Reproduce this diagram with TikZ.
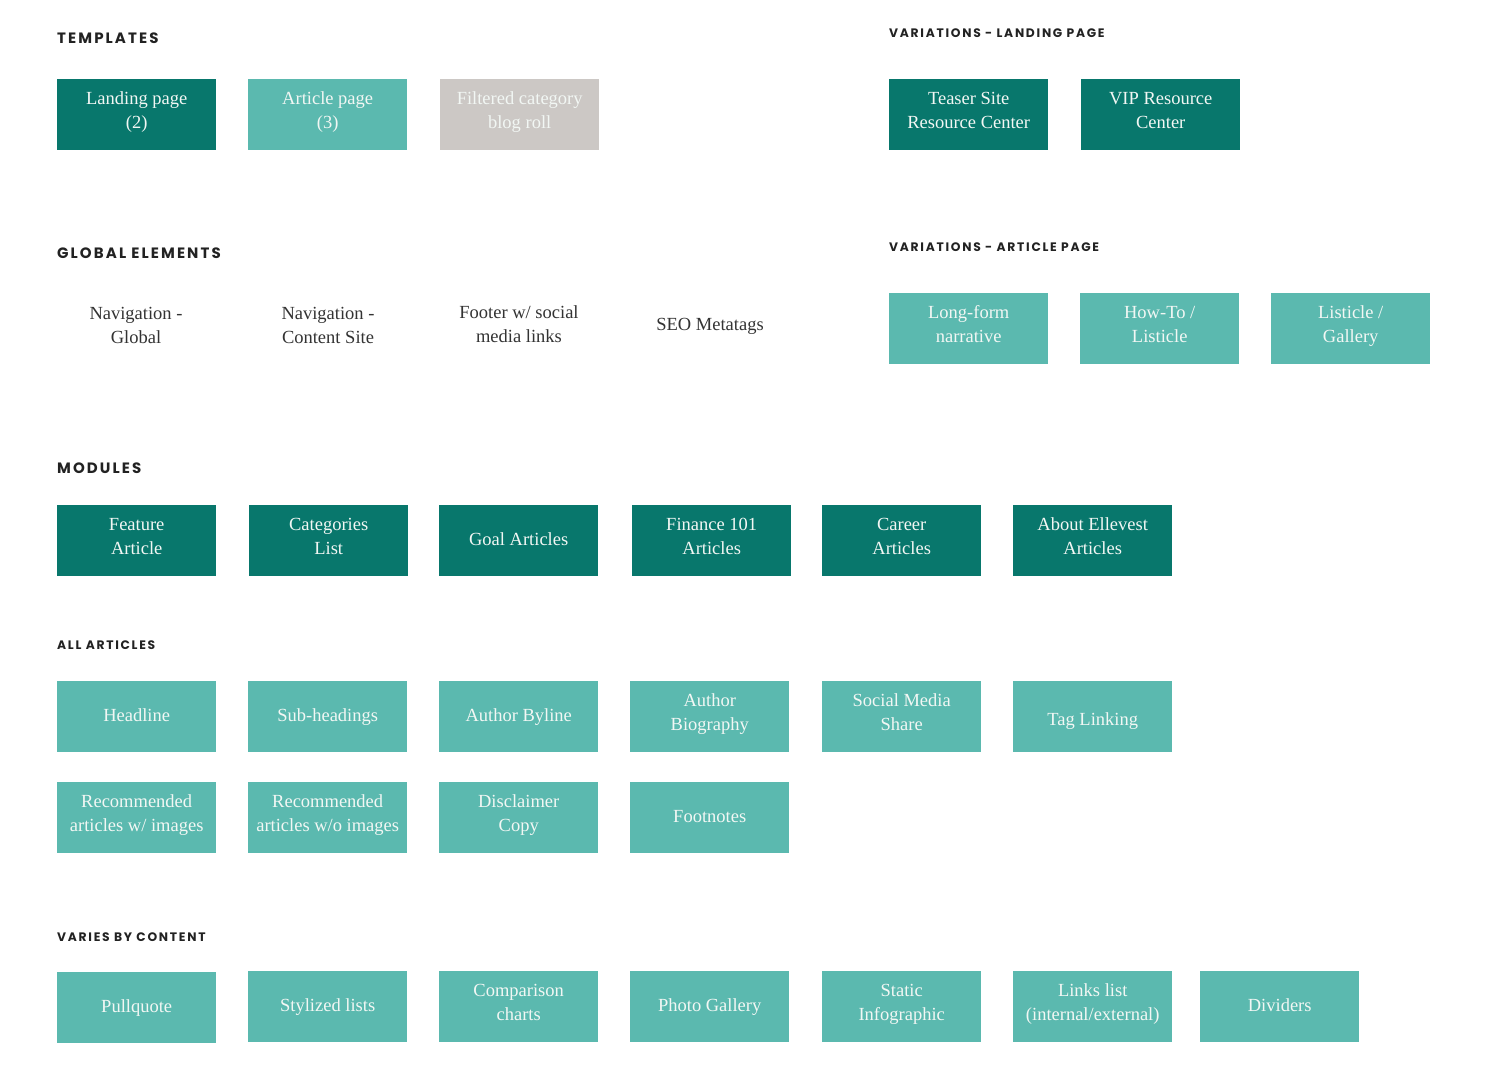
\documentclass[tikz,border=0pt]{standalone}
\usepackage{fontspec}
\setmainfont{Liberation Serif}
\newfontfamily\headfont[LetterSpace=14]{Poppins}
\definecolor{darkteal}{HTML}{08776C}
\definecolor{lightteal}{HTML}{5BB9AF}
\definecolor{greybox}{HTML}{CCC8C5}
\definecolor{boxtext}{HTML}{F2F7F4}
\definecolor{headtext}{HTML}{222222}
\definecolor{plaintext}{HTML}{333333}
\newcommand\mystrut{\rule[-9pt]{0pt}{27pt}}
\tikzset{
  txt/.style={align=center, inner sep=0pt, font=\fontsize{18.5}{24}\selectfont,
    execute at begin node=\mystrut, execute at end node=\mystrut},
  box/.style={txt, minimum width=159pt, minimum height=71pt,
    text=boxtext, anchor=north west},
  dbox/.style={box, fill=darkteal},
  lbox/.style={box, fill=lightteal},
  gbox/.style={box, fill=greybox},
  plain/.style={txt, text=plaintext},
  bighead/.style={anchor=west, inner sep=0pt, text=headtext, font=\headfont\bfseries\fontsize{15}{17}\selectfont},
  smallhead/.style={anchor=west, inner sep=0pt, text=headtext, font=\headfont\bfseries\fontsize{12.3}{14}\selectfont},
}
\begin{document}
\begin{tikzpicture}[x=1pt,y=-1pt]
\useasboundingbox[fill=white] (0,0) rectangle (1487,1084);
% headings
\node[bighead] (hTemp) at (57,38) {TEMPLATES};
\node[smallhead] (hVarL) at (889,33) {VARIATIONS - LANDING PAGE};
\node[bighead] (hGlob) at (57,253) {GLOBAL ELEMENTS};
\node[smallhead] (hVarA) at (889,247) {VARIATIONS - ARTICLE PAGE};
\node[bighead] (hMod) at (57,468) {MODULES};
\node[smallhead] (hAll) at (57,645) {ALL ARTICLES};
\node[smallhead] (hVar) at (57,937) {VARIES BY CONTENT};
% templates
\node[dbox] (t1) at (57,79) {Landing page\\(2)};
\node[lbox] (t2) at (248,79) {Article page\\(3)};
\node[gbox] (t3) at (440,79) {Filtered category\\blog roll};
\node[dbox] (vl1) at (889,79) {Teaser Site\\Resource Center};
\node[dbox] (vl2) at (1081,79) {VIP Resource\\Center};
% global elements
\node[plain] (g1) at (136,330) {Navigation -\\Global};
\node[plain] (g2) at (328,330) {Navigation -\\Content Site};
\node[plain] (g3) at (519,329) {Footer w/ social\\media links};
\node[plain] (g4) at (710,326) {SEO Metatags};
\node[lbox] (va1) at (889,293) {Long-form\\narrative};
\node[lbox] (va2) at (1080,293) {How-To /\\Listicle};
\node[lbox] (va3) at (1271,293) {Listicle /\\Gallery};
% modules
\node[dbox] (m1) at (57,505) {Feature\\Article};
\node[dbox] (m2) at (249,505) {Categories\\List};
\node[dbox] (m3) at (439,505) {Goal Articles};
\node[dbox] (m4) at (632,505) {Finance 101\\Articles};
\node[dbox] (m5) at (822,505) {Career\\Articles};
\node[dbox] (m6) at (1013,505) {About Ellevest\\Articles};
% all articles
\node[lbox] (a1) at (57,681) {Headline};
\node[lbox] (a2) at (248,681) {Sub-headings};
\node[lbox] (a3) at (439,681) {Author Byline};
\node[lbox] (a4) at (630,681) {Author\\Biography};
\node[lbox] (a5) at (822,681) {Social Media\\Share};
\node[lbox] (a6) at (1013,681) {\raisebox{-4pt}{Tag Linking}};
\node[lbox] (a7) at (57,782) {Recommended\\articles w/ images};
\node[lbox] (a8) at (248,782) {Recommended\\articles w/o images};
\node[lbox] (a9) at (439,782) {Disclaimer\\Copy};
\node[lbox] (a10) at (630,782) {Footnotes};
% varies by content
\node[lbox] (v1) at (57,972) {Pullquote};
\node[lbox] (v2) at (248,971) {Stylized lists};
\node[lbox] (v3) at (439,971) {Comparison\\charts};
\node[lbox] (v4) at (630,971) {Photo Gallery};
\node[lbox] (v5) at (822,971) {Static\\Infographic};
\node[lbox] (v6) at (1013,971) {Links list\\(internal/external)};
\node[lbox] (v7) at (1200,971) {Dividers};
\end{tikzpicture}
\end{document}
